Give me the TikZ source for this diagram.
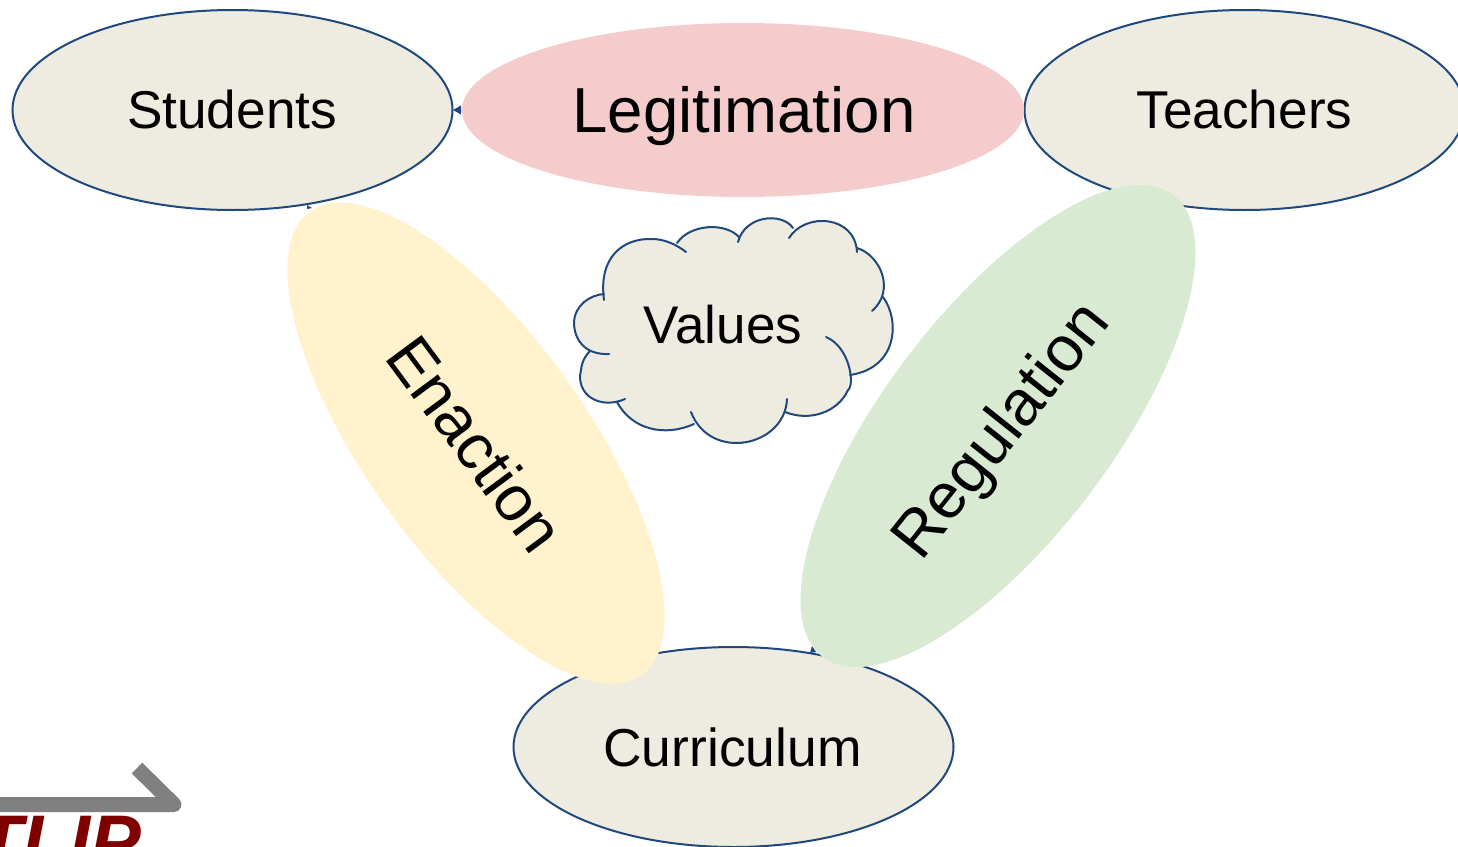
\documentclass[tikz,border=0pt]{standalone}
\usepackage{fontspec}
\setmainfont{Liberation Sans}
\usetikzlibrary{shapes.geometric}
\definecolor{nodefill}{HTML}{EEECE1}
\definecolor{edge}{HTML}{1F497D}
\definecolor{pinkfill}{HTML}{F4CCCC}
\definecolor{yellowfill}{HTML}{FFF2CC}
\definecolor{greenfill}{HTML}{D9EAD3}
\definecolor{tlipred}{HTML}{800000}
\definecolor{arrowgray}{HTML}{808080}
\tikzset{
  blob/.style={ellipse,inner sep=0pt,outer sep=0pt,minimum width=#1},
  person/.style={blob=440pt,minimum height=200pt,fill=nodefill,draw=edge,line width=2pt},
  cloudline/.style={draw=edge,line width=2pt,line cap=round},
}
\begin{document}
\begin{tikzpicture}[x=1pt,y=-1pt]
\useasboundingbox (0,0) rectangle (1458,846);
\clip (0,0) rectangle (1458,846);
\node[person,font=\fontsize{53.2}{60}\selectfont] (students) at (232.5,110) {\raisebox{1pt}{\kern-1pt Students}};
\node[person,font=\fontsize{53.2}{60}\selectfont] (teachers) at (1244.5,110) {\raisebox{1pt}{Teachers}};
\node[person,font=\fontsize{53.4}{60}\selectfont] (curriculum) at (733.5,747) {\kern-2pt Curriculum};
% small arrow tips
\fill[edge] (453,110) -- (461,105.5) -- (461,114.5) -- cycle;
\fill[edge] (307,205) -- (312,208) -- (307,209) -- cycle;
\fill[edge] (810,653) -- (812,646) -- (816,652) -- cycle;
\node[blob=562pt,minimum height=174pt,fill=pinkfill] (legit) at (743,110) {};
\node[font=\fontsize{63.6}{70}\selectfont] (legitlabel) at (744,116) {Legitimation};
\node[blob=570pt,minimum height=221pt,rotate=-54.4,fill=yellowfill] (enaction) at (476,443) {};
\node[rotate=-53.5,font=\fontsize{64}{70}\selectfont] (enactionlabel) at (476,443.5) {Enaction};
\node[blob=580pt,minimum height=228pt,rotate=52.8,fill=greenfill] (regulation) at (998,426) {};
\node[rotate=51.5,font=\fontsize{64}{70}\selectfont] (regulationlabel) at (1003.5,432) {Regulation};
% cloud
\path[fill=nodefill] (604,298) .. controls (598,255) and (625,238) .. (652,239)
 .. controls (665,239) and (677,243) .. (686,252) -- (677,243)
 .. controls (690,224) and (725,222) .. (739,237) -- (738,242)
 .. controls (745,215) and (782,212) .. (793,228) -- (789,238)
 .. controls (805,212) and (855,215) .. (857,252) -- (857,248)
 .. controls (880,255) and (896,290) .. (872,311) -- (883,297)
 .. controls (900,320) and (898,368) .. (850,375) -- (848,390)
 .. controls (838,412) and (810,422) .. (785,412) -- (787,399)
 .. controls (785,447) and (710,462) .. (691,412) -- (694,424)
 .. controls (665,437) and (632,430) .. (617,402) -- (625,399)
 .. controls (600,410) and (575,395) .. (581,370)
 .. controls (582,360) and (587,354) .. (590,351) -- (609,354)
 .. controls (585,355) and (574,340) .. (574,322)
 .. controls (575,305) and (590,295) .. (604,294) -- cycle;
\draw[cloudline] (604,300) .. controls (598,255) and (625,238) .. (652,239) .. controls (665,239) and (677,245) .. (686,252);
\draw[cloudline] (677,243) .. controls (690,224) and (725,222) .. (739,237) ;
\draw[cloudline] (738,242) .. controls (745,215) and (782,212) .. (793,228);
\draw[cloudline] (789,238) .. controls (805,212) and (855,215) .. (857,252);
\draw[cloudline] (857,248) .. controls (880,255) and (896,290) .. (872,311);
\draw[cloudline] (883,297) .. controls (900,320) and (898,368) .. (850,375);
\draw[cloudline] (826,337) .. controls (850,347) and (855,385) .. (848,390) .. controls (838,412) and (810,422) .. (785,412);
\draw[cloudline] (787,399) .. controls (785,447) and (710,462) .. (691,412);
\draw[cloudline] (694,424) .. controls (665,437) and (632,430) .. (617,402);
\draw[cloudline] (625,399) .. controls (600,410) and (575,395) .. (581,370) .. controls (582,360) and (587,354) .. (590,351);
\draw[cloudline] (609,354) .. controls (585,355) and (574,340) .. (574,322) .. controls (575,305) and (590,295) .. (604,294);
\node[font=\fontsize{53}{60}\selectfont] (values) at (723,325) {Values};
% logo
\node[anchor=base west,font=\fontsize{76}{80}\selectfont\bfseries\itshape,text=tlipred,inner sep=0pt] (tlip) at (-24,868) {TLIP};
\coordinate (arrowstart) at (-10,804.5);
\coordinate (arrowbend) at (174,804.5);
\coordinate (arrowend) at (137,768);
\draw[draw=arrowgray,line width=15pt,line join=round] (arrowstart) -- (arrowbend) -- (arrowend);
\end{tikzpicture}
\end{document}
